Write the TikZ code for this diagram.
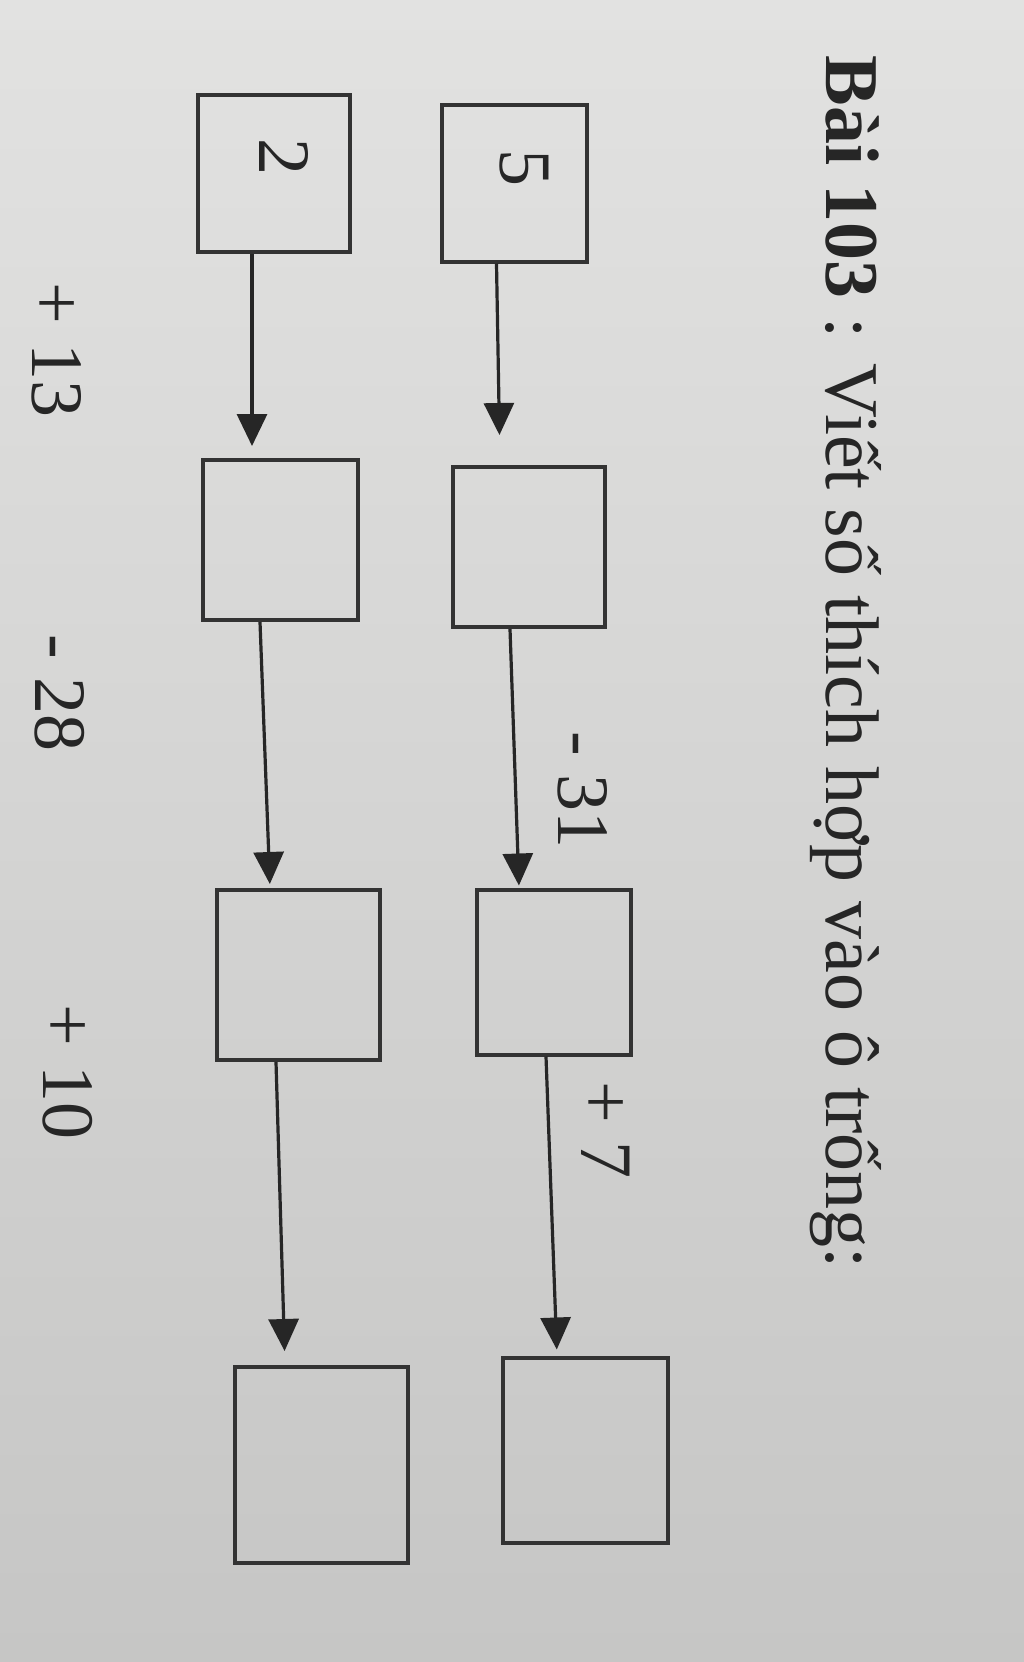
\documentclass[tikz,border=0pt]{standalone}
\usepackage{fontspec}
\setmainfont{Liberation Serif}
\usetikzlibrary{arrows.meta}
\definecolor{paperhi}{RGB}{226,226,225}
\definecolor{paperlo}{RGB}{198,198,197}
\tikzstyle{box}=[draw=black!80,line width=2pt,inner sep=0]
\tikzstyle{hit}=[-{Triangle[length=16pt,width=15pt]},line width=1.6pt,draw=black!85]
\tikzstyle{num}=[rotate=-90,inner sep=0,text=black!85,font=\fontsize{37}{40}\selectfont]

\begin{document}
\begin{tikzpicture}[x=0.5pt,y=-0.5pt]
\shade[top color=paperhi,bottom color=paperlo] (0,0) rectangle (1024,1662);
\useasboundingbox (0,0) rectangle (1024,1662);
% title
\node (title) at (826,55)[anchor=base west,rotate=-90,inner sep=0,text=black!85,
  font=\fontsize{38}{42}\selectfont]{\textbf{Bài 103} : Viết số thích hợp vào ô trống:};
% boxes
\foreach \n/\x/\y/\w/\h in {a1/514/183/145/157,a2/529/547/152/160,a3/554/972/154/165,
  a4/585/1450/165/185,b1/274/173/152/157,b2/280/540/155/160,b3/298/975/163/170,b4/321/1465/173/196}
\node[box,minimum width=\w*0.5pt,minimum height=\h*0.5pt] (\n) at (\x,\y) {};
\node[num] (five) at (524,168) {5};
\node[num] (two) at (284,157) {2};
% arrows
\foreach \s/\t/\p/\q/\g in {a1/a2/-8.75/-14.5/15,a2/a3/-9.5/-17.5/1,a3/a4/-4/-14/3,
  b1/b2/-11/-14/6,b2/b3/-10/-14/2,b3/b4/-11/-18/7}
\draw[hit,shorten >=\g pt] ([xshift=\p pt]\s.south) -- ([xshift=\q pt]\t.north);
% operations
\node[num] (m31) at (583,790) {- 31};
\node[num] (p7) at (606,1130) {+ 7};
\node[num] (p13) at (57,350) {+ 13};
\node[num] (m28) at (60,693) {- 28};
\node[num] (p10) at (68,1072) {+ 10};
\end{tikzpicture}
\end{document}
